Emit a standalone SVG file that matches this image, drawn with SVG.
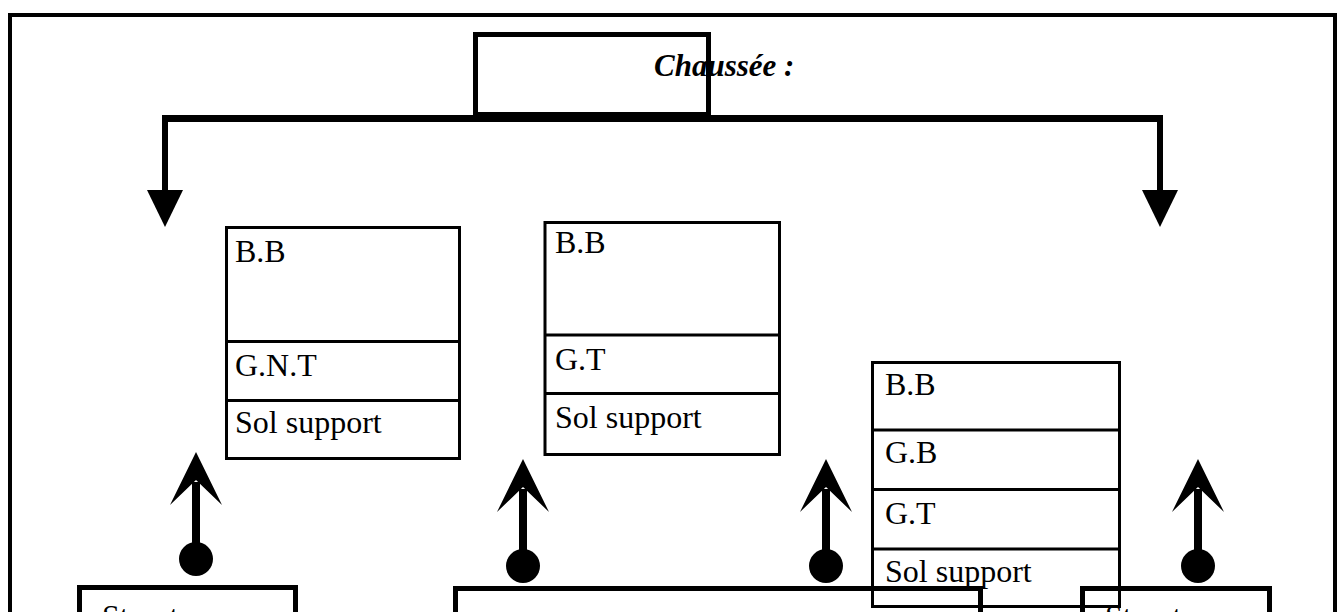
<svg xmlns="http://www.w3.org/2000/svg" width="1337" height="612" viewBox="0 0 1337 612">
<style>
  .frame{fill:none;stroke:#000;stroke-width:4}
  .stack{fill:none;stroke:#000;stroke-width:3}
  .box{fill:none;stroke:#000;stroke-width:5}
  .lbl{font-family:"Liberation Serif","Times New Roman",serif;font-size:32px;fill:#000}
  .title{font-family:"Liberation Serif","Times New Roman",serif;font-size:31px;font-weight:bold;font-style:italic;fill:#000}
  .line{fill:none;stroke:#000;stroke-width:7}
</style>
<defs>
  <g id="uparrow">
    <line x1="0" y1="30" x2="0" y2="107" stroke="#000" stroke-width="8"/>
    <polygon points="0,0 26,53 0,28 -26,53" fill="#000"/>
    <circle cx="0" cy="107" r="17" fill="#000"/>
  </g>
</defs>
<rect class="frame" x="10" y="15" width="1325" height="700"/>

<g id="title">
  <text class="title" x="654" y="76">Chaussée :</text>
  <rect class="box" x="475.5" y="34.5" width="233" height="80"/>
</g>

<g id="stack-left">
  <rect class="stack" x="226.5" y="227.5" width="233" height="231"/>
  <line class="stack" x1="226.5" y1="341.5" x2="459.5" y2="341.5"/>
  <line class="stack" x1="226.5" y1="400.5" x2="459.5" y2="400.5"/>
  <text class="lbl" x="235" y="262">B.B</text>
  <text class="lbl" x="235" y="376">G.N.T</text>
  <text class="lbl" x="235" y="433">Sol support</text>
</g>

<g id="stack-middle">
  <rect class="stack" x="545" y="222.5" width="234.5" height="232"/>
  <line class="stack" x1="545" y1="335" x2="779.5" y2="335"/>
  <line class="stack" x1="545" y1="393.5" x2="779.5" y2="393.5"/>
  <text class="lbl" x="555" y="253">B.B</text>
  <text class="lbl" x="555" y="370">G.T</text>
  <text class="lbl" x="555" y="428">Sol support</text>
</g>

<g id="stack-right">
  <rect class="stack" x="872.5" y="362.5" width="247" height="244"/>
  <line class="stack" x1="872.5" y1="430" x2="1119.5" y2="430"/>
  <line class="stack" x1="872.5" y1="489.5" x2="1119.5" y2="489.5"/>
  <line class="stack" x1="872.5" y1="549" x2="1119.5" y2="549"/>
  <text class="lbl" x="885" y="395">B.B</text>
  <text class="lbl" x="885" y="463">G.B</text>
  <text class="lbl" x="885" y="524">G.T</text>
  <text class="lbl" x="885" y="582">Sol support</text>
</g>

<g id="struct-left">
  <rect class="box" x="79.5" y="587.5" width="216" height="100"/>
  <text class="lbl" x="102" y="627">Structure</text>
</g>

<g id="struct-middle">
  <rect class="box" x="455.5" y="588.5" width="525" height="100"/>
</g>

<g id="struct-right">
  <rect class="box" x="1082.5" y="588.5" width="187" height="100"/>
  <text class="lbl" x="1105" y="627">Structure</text>
</g>

<g id="connectors">
  <path class="line" d="M165,118.5 H1160"/>
  <line x1="165" y1="115" x2="165" y2="192" stroke="#000" stroke-width="6"/>
  <polygon points="147,190 183,190 165,227" fill="#000"/>
  <line x1="1160" y1="115" x2="1160" y2="192" stroke="#000" stroke-width="6"/>
  <polygon points="1142,190 1178,190 1160,227" fill="#000"/>
  <use href="#uparrow" x="196" y="452"/>
  <use href="#uparrow" x="523" y="459"/>
  <use href="#uparrow" x="826" y="459"/>
  <use href="#uparrow" x="1198" y="459"/>
</g>
</svg>
